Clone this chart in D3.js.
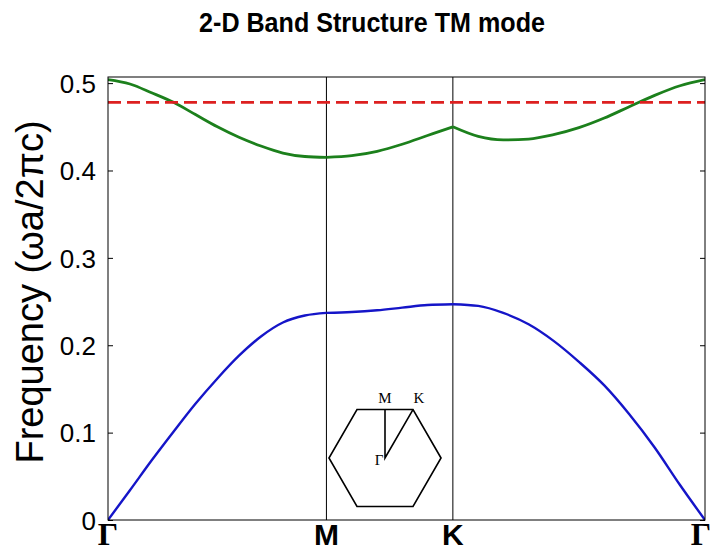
<!DOCTYPE html>
<html>
<head>
<meta charset="utf-8">
<script src="https://cdn.jsdelivr.net/npm/d3@7/dist/d3.min.js"></script>
<style>
  html, body { margin: 0; padding: 0; background: #fff; }
  svg { display: block; }
</style>
</head>
<body>
<svg id="chart" width="713" height="552"></svg>
<script>
// Symmetry points along the Γ–M–K–Γ path (cumulative |k| in units of 2π/a)
const kLabels = ["Γ", "M", "K", "Γ"];
const kPositions = [0, 0.577, 0.911, 1.577];

// Sample wavevectors on each leg of the path
const kGM = [0, 0.058, 0.115, 0.173, 0.231, 0.289, 0.346, 0.404, 0.462, 0.520, 0.577];
const kMK = [0.577, 0.644, 0.711, 0.777, 0.844, 0.911];
const kKG = [0.911, 0.978, 1.044, 1.111, 1.177, 1.244, 1.311, 1.377, 1.444, 1.511, 1.577];

// Band 1 (ωa/2πc)
const band1GM = [0, 0.034, 0.068, 0.101, 0.133, 0.162, 0.188, 0.210, 0.226, 0.234, 0.237];
const band1MK = [0.237, 0.238, 0.240, 0.243, 0.246, 0.247];
const band1KG = [0.247, 0.245, 0.237, 0.224, 0.205, 0.181, 0.154, 0.121, 0.083, 0.040, 0];

// Band 2 (ωa/2πc)
const band2GM = [0.504, 0.499, 0.489, 0.478, 0.464, 0.450, 0.438, 0.428, 0.420, 0.416, 0.415];
const band2MK = [0.415, 0.417, 0.422, 0.430, 0.440, 0.450];
const band2KG = [0.450, 0.439, 0.435, 0.436, 0.441, 0.449, 0.460, 0.473, 0.486, 0.497, 0.504];

// Operating frequency marker
const operatingFreq = 0.478;

// Y axis
const yTicks = [0, 0.1, 0.2, 0.3, 0.4, 0.5];
const yTickLabels = ["0", "0.1", "0.2", "0.3", "0.4", "0.5"];
const yMax = 0.507;

// Brillouin-zone sketch points (units of 2π/a)
const bzLabels = ["Γ", "M", "K"];
const bzPoints = [[0, 0], [0, 0.577], [0.333, 0.577]];
const bzVertexRadius = 0.667;

const W = 713, H = 552;
const margin = { left: 108, right: 8, top: 77, bottom: 32 };
const svg = d3.select("#chart");
svg.append("rect").attr("width", W).attr("height", H).attr("fill", "#fff");

const x = d3.scaleLinear().domain([kPositions[0], kPositions[3]]).range([margin.left, W - margin.right]);
const y = d3.scaleLinear().domain([0, yMax]).range([H - margin.bottom, margin.top]);

const sansFont = "'Liberation Sans', Arial, Helvetica, sans-serif";
const serifFont = "'Liberation Serif', 'Times New Roman', serif";

// Clip to the axes box
svg.append("defs").append("clipPath").attr("id", "plotClip")
  .append("rect")
  .attr("x", x.range()[0]).attr("y", y.range()[1])
  .attr("width", x.range()[1] - x.range()[0])
  .attr("height", y.range()[0] - y.range()[1]);

const plot = svg.append("g").attr("clip-path", "url(#plotClip)");

// Vertical lines at M and K
plot.selectAll("line.sym")
  .data(kPositions.slice(1, 3))
  .enter().append("line")
  .attr("class", "sym")
  .attr("x1", d => x(d)).attr("x2", d => x(d))
  .attr("y1", y(yMax)).attr("y2", y(0))
  .attr("stroke", "#000").attr("stroke-width", 1);

// Band curves, one path per leg so the kink at K is kept
const line = d3.line()
  .x(d => x(d[0])).y(d => y(d[1]))
  .curve(d3.curveMonotoneX);

const legs = [kGM, kMK, kKG];
const bands = [
  { legs: [band1GM, band1MK, band1KG], color: "#1515c8", width: 2.4 },
  { legs: [band2GM, band2MK, band2KG], color: "#1c801c", width: 2.8 }
];

bands.forEach(b => {
  b.legs.forEach((vals, i) => {
    plot.append("path")
      .datum(legs[i].map((k, j) => [k, vals[j]]))
      .attr("d", line)
      .attr("fill", "none")
      .attr("stroke", b.color)
      .attr("stroke-width", b.width)
      .attr("stroke-linejoin", "round");
  });
});

// Dashed operating frequency line
plot.append("line")
  .attr("x1", x(kPositions[0])).attr("x2", x(kPositions[3]))
  .attr("y1", y(operatingFreq)).attr("y2", y(operatingFreq))
  .attr("stroke", "#dd2020").attr("stroke-width", 2.6)
  .attr("stroke-dasharray", "13,6");

// Axes box
svg.append("rect")
  .attr("x", x.range()[0]).attr("y", y.range()[1])
  .attr("width", x.range()[1] - x.range()[0])
  .attr("height", y.range()[0] - y.range()[1])
  .attr("fill", "none").attr("stroke", "#000").attr("stroke-width", 1);

// Y axis ticks (left, labelled) and mirrored ticks on the right
const yAxisL = d3.axisLeft(y).tickValues(yTicks)
  .tickFormat((d, i) => yTickLabels[i]).tickSizeInner(-5).tickSizeOuter(0).tickPadding(12);
const gL = svg.append("g").attr("transform", `translate(${x.range()[0]},0)`).call(yAxisL);
gL.select(".domain").remove();
gL.selectAll("line").attr("stroke", "#000");
gL.selectAll("text")
  .attr("font-family", sansFont).attr("font-size", 26).attr("fill", "#000")
  .attr("dy", "0.36em");

const yAxisR = d3.axisRight(y).tickValues(yTicks).tickFormat("").tickSizeInner(-5).tickSizeOuter(0);
const gR = svg.append("g").attr("transform", `translate(${x.range()[1]},0)`).call(yAxisR);
gR.select(".domain").remove();
gR.selectAll("line").attr("stroke", "#000");

// X labels at symmetry points
const kLabelShift = [0, 0, 0, -4];
svg.selectAll("text.kl")
  .data(kLabels)
  .enter().append("text")
  .attr("class", "kl")
  .attr("x", (d, i) => x(kPositions[i]) + kLabelShift[i])
  .attr("y", 545)
  .attr("text-anchor", "middle")
  .attr("font-family", d => d === "Γ" ? serifFont : sansFont)
  .attr("font-weight", "bold")
  .attr("font-size", d => d === "Γ" ? 32 : 30)
  .attr("fill", "#000")
  .text(d => d);

// Title
svg.append("text")
  .attr("transform", "translate(372,32) scale(0.93,1)")
  .attr("text-anchor", "middle")
  .attr("font-family", sansFont).attr("font-weight", "bold").attr("font-size", 27)
  .attr("fill", "#000")
  .text("2-D Band Structure TM mode");

// Y axis label
svg.append("text")
  .attr("transform", "translate(43,292) rotate(-90)")
  .attr("text-anchor", "middle")
  .attr("font-family", sansFont).attr("font-size", 38)
  .attr("fill", "#000")
  .text("Frequency (ωa/2πc)");

// First Brillouin zone sketch
const bz = d3.scaleLinear().domain([0, 1]).range([0, 84]);
const bzCenter = [385, 458];
const inset = svg.append("g").attr("transform", `translate(${bzCenter[0]},${bzCenter[1]})`);
const hexAngles = [0, 60, 120, 180, 240, 300];
const hexPts = hexAngles.map(a => [bz(bzVertexRadius * Math.cos(a * Math.PI / 180)),
                                   -bz(bzVertexRadius * Math.sin(a * Math.PI / 180))]);
inset.append("path")
  .attr("d", d3.line()(hexPts) + "Z")
  .attr("fill", "none").attr("stroke", "#000").attr("stroke-width", 1.6);
inset.append("path")
  .attr("d", d3.line()([[bz(bzPoints[1][0]), -bz(bzPoints[1][1])],
                        [bz(bzPoints[0][0]), -bz(bzPoints[0][1])],
                        [bz(bzPoints[2][0]), -bz(bzPoints[2][1])]]))
  .attr("fill", "none").attr("stroke", "#000").attr("stroke-width", 1.6);
const bzOffsets = [[-6, 7], [0, -7], [6, -7]];
inset.selectAll("text")
  .data(bzLabels)
  .enter().append("text")
  .attr("x", (d, i) => bz(bzPoints[i][0]) + bzOffsets[i][0])
  .attr("y", (d, i) => -bz(bzPoints[i][1]) + bzOffsets[i][1])
  .attr("text-anchor", "middle")
  .attr("font-family", serifFont).attr("font-size", 15)
  .attr("fill", "#000")
  .text(d => d);
</script>
</body>
</html>
